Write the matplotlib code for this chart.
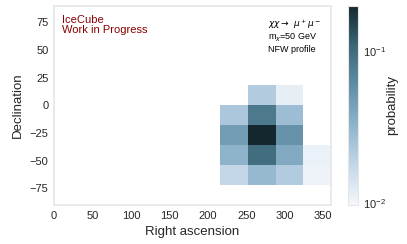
import numpy as np
import matplotlib
matplotlib.use("Agg")
from matplotlib import pyplot as plt
from matplotlib.colors import LogNorm, LinearSegmentedColormap

# bin edges (degrees)
ra_edges = np.linspace(0, 360, 11)
dec_edges = np.linspace(-90, 90, 11)

# filled cells: bin centres and probability
ra_centre = [270, 306,
             234, 270, 306,
             234, 270, 306,
             234, 270, 306, 342,
             234, 270, 306, 342]
dec_centre = [9, 9,
              -9, -9, -9,
              -27, -27, -27,
              -45, -45, -45, -45,
              -63, -63, -63, -63]
prob = [0.0216, 0.0115,
        0.023, 0.082, 0.028,
        0.047, 0.200, 0.055,
        0.033, 0.098, 0.039, 0.0108,
        0.0175, 0.030, 0.0216, 0.0105]

cmap = LinearSegmentedColormap.from_list(
    "icecube", ["#f4f7fb", "#c2d6e8", "#8fb4cc", "#5f8ea5", "#3b6676", "#14272e"])

plt.rcParams['font.family'] = ['Liberation Sans', 'DejaVu Sans']
plt.rcParams['mathtext.fontset'] = 'dejavusans'

fig = plt.figure(figsize=(4.07, 2.44), dpi=100)
ax = fig.add_axes([0.133, 0.16, 0.68, 0.817])
cax = fig.add_axes([0.855, 0.16, 0.025, 0.817])

h, xe, ye, mesh = ax.hist2d(ra_centre, dec_centre, bins=[ra_edges, dec_edges], weights=prob,
                            cmap=cmap, norm=LogNorm(vmin=0.0097, vmax=max(prob)), cmin=1e-6)
ax.set_xlim(0, 360)
ax.set_ylim(-90, 90)
ax.set_xticks(np.arange(0, 351, 50))
ax.set_yticks(np.arange(-75, 76, 25))
for s in ax.spines.values():
    s.set_color("#e6e6e6")
    s.set_linewidth(1.2)
ax.tick_params(length=0, labelsize=8, colors="#262626", pad=4)
ax.set_xlabel("Right ascension", fontsize=9.5, color="#262626")
ax.set_ylabel("Declination", fontsize=9.5, color="#262626")

ax.text(0.03, 0.955, "IceCube\nWork in Progress", transform=ax.transAxes, color="#8b0000",
        fontsize=8, va="top", ha="left", linespacing=1.0)
ax.text(0.773, 0.94, r"$\chi\chi \rightarrow\ \mu^+\mu^-$" + "\n" + r"m$_\chi$=50 GeV" + "\nNFW profile",
        transform=ax.transAxes, color="black", fontsize=6.5, va="top", ha="left", linespacing=1.1)

cb = fig.colorbar(mesh, cax=cax)
cb.outline.set_edgecolor("#e6e6e6")
cb.ax.tick_params(length=0, labelsize=8, colors="#262626", which="both")
cb.set_label("probability", fontsize=9.5, color="#262626", labelpad=0)

fig.savefig("out.png", dpi=100)
